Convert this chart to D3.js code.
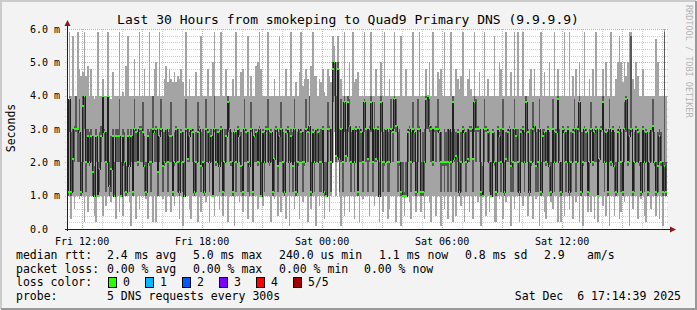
<!DOCTYPE html>
<html>
<head>
<meta charset="utf-8">
<script src="https://d3js.org/d3.v7.min.js"></script>
<style>
body { margin: 0; background: #f3f3f3; }
text { font-family: "DejaVu Sans Mono", monospace; fill: #000; white-space: pre; }
</style>
</head>
<body>
<script>
// RTT values in 0.1 ms, one value per 5 minute step (360 steps = 30 hours)
var medRtt = [
  11,39,11,21,30,30,30,29,11,37,40,20,28,20,28,17,10,28,10,18,28,40,29,20,40,13,18,28,10,28,
  28,28,10,28,20,11,28,19,28,11,30,29,20,30,30,29,19,11,28,20,20,30,29,30,17,28,30,19,20,30,
  20,28,28,11,20,30,20,11,29,20,10,30,21,28,30,29,11,20,29,30,19,20,11,30,29,20,28,10,30,20,
  29,19,30,11,20,28,38,30,20,11,29,20,30,28,19,11,30,29,20,19,30,11,28,29,20,30,10,29,20,30,
  30,20,29,11,21,30,19,28,30,20,11,29,30,20,28,19,30,11,20,30,29,20,20,30,29,31,11,29,20,30,
  29,20,20,30,11,10,30,30,20,48,50,22,48,21,30,20,38,22,38,31,20,30,20,30,11,30,29,20,38,30,
  21,30,38,20,30,21,30,10,38,20,20,30,20,20,30,29,39,31,20,20,11,10,10,10,29,30,20,30,29,11,
  30,30,11,11,20,39,40,31,30,20,30,30,30,29,20,20,20,20,20,30,20,38,21,22,29,11,20,30,29,20,
  21,30,30,21,38,30,30,30,11,10,30,30,29,20,10,29,20,11,30,28,20,30,11,21,29,30,19,20,30,28,
  20,11,29,30,20,38,29,11,20,30,31,19,20,30,11,28,29,20,30,19,11,30,20,29,39,20,11,30,29,20,
  30,11,20,29,30,20,30,38,11,20,30,29,11,20,30,20,29,30,10,21,30,38,20,29,11,30,20,30,19,11,
  29,30,20,11,30,39,20,28,30,11,20,30,29,20,11,30,20,29,11,20,30,31,20,11,19,28,20,11,19,11
];
// 2nd and 4th of the 5 sorted pings
var ping2 = [
  10,29,10,11,20,29,20,20,10,20,30,11,20,19,20,10,10,20,10,11,20,30,20,11,30,10,11,20,10,20,
  20,20,10,19,11,10,20,11,20,10,20,20,19,29,20,20,11,10,20,19,11,29,20,20,10,20,29,11,19,20,
  11,20,20,10,19,20,11,10,20,11,10,29,20,20,29,20,10,11,20,29,11,19,10,20,20,11,20,10,29,19,
  20,11,20,10,11,20,29,20,19,10,20,11,29,20,11,10,20,20,11,10,29,10,20,20,19,20,10,20,11,29,
  20,19,20,10,11,29,11,20,20,11,10,20,29,11,20,11,20,10,19,20,20,11,19,29,20,29,10,20,11,20,
  20,11,11,20,10,10,20,29,11,38,40,20,39,11,20,11,29,20,29,20,11,20,11,29,10,20,20,11,29,20,
  11,20,29,11,20,20,29,10,29,11,19,20,11,11,29,20,30,29,11,19,10,10,10,10,20,29,11,20,20,10,
  20,29,10,10,11,30,30,29,20,19,29,20,29,20,11,19,11,19,11,20,11,29,20,11,20,10,11,29,20,11,
  20,20,29,11,29,20,29,20,10,10,20,29,20,11,10,20,19,10,20,20,11,29,10,20,20,29,11,11,20,20,
  11,10,20,20,11,29,20,10,19,20,29,11,11,29,10,20,20,19,20,11,10,20,11,20,30,11,10,29,20,11,
  20,10,11,20,29,11,20,29,10,19,20,20,10,11,29,19,20,20,10,20,29,30,11,20,10,20,19,29,11,10,
  20,29,11,10,20,29,19,20,29,10,11,20,20,19,10,29,11,20,10,11,20,29,19,10,11,20,19,10,11,10
];
var ping4 = [
  20,40,29,30,31,40,30,39,20,40,40,30,30,29,30,28,19,30,20,29,31,40,30,29,40,20,28,30,20,30,
  30,39,20,30,29,19,30,28,30,20,39,30,29,31,31,38,28,20,30,29,30,40,30,31,28,30,39,29,29,30,
  29,30,38,20,29,31,30,20,30,29,20,39,30,29,30,30,20,29,38,31,29,30,20,39,30,29,30,19,40,30,
  30,29,31,20,30,30,40,38,29,20,30,29,31,30,29,19,39,30,29,20,38,20,30,30,29,31,20,30,29,31,
  39,29,30,20,30,31,29,30,38,29,20,30,31,29,30,29,39,20,29,30,30,29,30,39,30,40,20,30,29,30,
  30,29,30,31,20,20,38,31,30,50,50,40,50,30,39,30,40,30,40,39,29,30,30,31,20,31,30,29,39,30,
  30,31,40,29,38,30,31,20,40,29,30,30,29,30,39,30,40,39,29,30,20,20,11,20,30,31,29,38,30,20,
  39,31,20,29,30,40,40,39,31,29,30,31,39,30,29,20,30,29,30,30,29,40,30,29,30,20,29,31,30,29,
  30,31,31,30,40,39,31,30,20,19,39,31,30,29,20,30,29,20,31,29,30,39,20,29,30,31,20,30,39,30,
  30,20,30,31,29,40,30,20,30,38,31,29,30,39,20,30,30,29,31,29,20,39,29,30,40,30,20,31,30,29,
  31,20,29,30,39,30,31,40,29,29,31,30,20,30,38,29,30,31,20,30,31,40,29,30,20,39,29,31,29,20,
  30,31,29,20,38,40,30,30,58,20,29,31,30,29,20,31,29,30,20,29,30,39,29,20,29,30,29,20,59,20
];
// fastest and slowest ping
var pingMin = [
  10,10, 3,10, 6,10,10, 9,10,10, 2,10, 5,10,10,10, 4, 2,10,10,10, 4,10, 7,10,10, 8,10,10, 3,
  10, 5,10, 4,10,10,10, 8, 1,10,10, 3,10, 6,10,10,10, 9, 3,10,10, 2,10, 2,10,10,10, 9,10, 5,
  10,10, 5,10, 7,10,10, 3,10, 1,10,10,10, 6, 3,10,10,10, 2,10, 5,10,10, 8,10, 2,10,10, 4,10,
  10, 6,10, 4,10,10, 2,10,10,10, 1,10,10, 8,10, 5,10,10, 3,10,10, 2,10,10, 6,10,10, 7,10,10,
  10,10, 2,10, 9,10, 4,10, 5,10,10, 3,10, 1,10,10, 6,10,10, 3,10, 8,10,10, 2,10, 6,10,10, 1,
  10, 7,10,10, 3,10,10, 5,10,20,29,10,20,10, 1,10, 4,10,10, 5,10,10, 3,10,10, 2,10, 9,10,10,
  10, 4,10,10, 7,10,10, 2,10, 5,10,10, 3, 6,10,10,10, 2,10,10, 1,10, 4,10,10, 8, 3,10,10, 5,
  10,10, 5,10, 3,10,10, 8, 2,10,10, 4,10,10, 1,10, 6,10, 3,10,10, 2,10, 4,10,10, 7,10, 2,10,
  10, 5,10, 3,10,10, 8,10, 1,10,10, 4,10, 5,10,10, 2, 2,10, 9,10, 3,10, 8,10,10, 1,10, 6,10,
  10, 2,10, 7,10,10, 4,10,10, 3,10, 9,10, 1,10,10, 5, 3,10,10, 8, 6,10,10, 2,10, 2,10, 4,10,
  10, 6,10, 3,10, 8,10, 2,10, 1,10,10, 5,10, 5,10, 3,10, 2,10,10, 7,10, 4,10, 1,10,10, 4,10,
  10, 3, 5,10, 8,10,10, 1,10, 6,10,10, 3,10, 9,10, 4, 2,10,10, 6,10,10, 4,10, 3,10, 1,10,10
];
var pingMax = [
  39,59,40,58,40,40,59,48,46,47,59,46,49,40,48,40,39,40,59,40,40,45,40,40,59,40,39,47,40,40,
  40,59,40,41,40,49,58,40,40,40,51,40,40,59,40,40,48,40,40,59,40,40,48,50,40,59,40,40,45,49,
  44,48,45,44,47,44,46,45,48,44,40,59,40,45,40,40,40,47,40,40,58,40,40,40,48,40,40,50,59,40,
  40,40,59,40,40,48,40,40,40,45,40,59,40,40,47,48,40,40,58,40,46,40,40,49,50,59,48,40,40,40,
  59,40,40,40,45,40,40,58,40,40,40,48,40,40,59,40,40,44,40,47,59,43,45,48,45,40,49,59,46,46,
  40,45,44,48,41,40,48,46,44,58,55,50,58,48,45,40,59,40,40,50,40,59,44,45,47,40,40,40,59,40,
  40,40,59,40,40,48,40,40,50,40,59,40,40,45,40,40,59,40,40,40,58,40,40,48,40,40,40,59,40,40,
  40,59,40,40,40,48,40,50,40,59,40,40,47,45,48,40,59,40,40,40,59,40,40,48,45,42,46,59,40,40,
  45,48,42,40,59,40,40,47,40,40,59,40,45,40,40,40,58,40,40,50,48,40,40,59,40,40,47,40,59,40,
  59,40,40,59,40,40,40,45,48,40,48,40,40,40,59,40,47,40,40,50,40,40,59,40,48,40,40,40,59,40,
  40,59,40,46,40,48,40,50,40,40,59,40,40,45,40,48,40,59,40,40,40,48,40,50,40,40,59,40,40,45,
  50,58,50,44,50,46,50,59,59,45,42,50,46,40,40,48,40,40,40,40,40,40,40,57,50,40,40,40,60,40
];

var yTicks = [0, 1, 2, 3, 4, 5, 6];
var yTickLabels = ["0.0", "1.0 m", "2.0 m", "3.0 m", "4.0 m", "5.0 m", "6.0 m"];
var titleText = "Last 30 Hours from smokeping to Quad9 Primary DNS (9.9.9.9)";
var rttStats = ["2.4 ms avg", "5.0 ms max", "240.0 us min", "1.1 ms now", "0.8 ms sd", "2.9", "am/s"];
var lossStats = ["0.00 % avg", "0.00 % max", "0.00 % min", "0.00 % now"];
var lossLevels = ["0", "1", "2", "3", "4", "5/5"];
var lossColors = ["#26ff00", "#00b8ff", "#0059ff", "#7e00ff", "#ff0000", "#a10000"];
var probeText = "5 DNS requests every 300s";
var stampText = "Sat Dec  6 17:14:39 2025";

var tEnd = new Date(Date.UTC(2025, 11, 6, 17, 14, 39));
var tStart = new Date(tEnd.getTime() - 30 * 3600 * 1000);
var stepMs = 300 * 1000;
var N = medRtt.length;

var svg = d3.select("body").append("svg")
    .attr("width", 697)
    .attr("height", 310);

//Background and frame
svg.append("rect").attr("width", 697).attr("height", 310).attr("fill", "#f3f3f3");
svg.append("path").attr("d", "M1,309 V1 H696").attr("fill", "none")
    .attr("stroke", "#cbcbcb").attr("stroke-width", 2);
svg.append("path").attr("d", "M1,309 H696 V1").attr("fill", "none")
    .attr("stroke", "#999999").attr("stroke-width", 2);

//Scales
var x = d3.scaleUtc().domain([tStart, tEnd]).range([67, 667]);
var y = d3.scaleLinear().domain([0, 6]).range([229, 29]);

//Canvas
svg.append("rect").attr("x", 67).attr("y", 29).attr("width", 600).attr("height", 200).attr("fill", "#ffffff");

//Grid
var grid = svg.append("g").attr("shape-rendering", "crispEdges");
var minorY = d3.range(0, 31).map(function(d) { return d / 5; }).filter(function(d) { return d % 1 !== 0; });
grid.selectAll(".hminor").data(minorY).enter().append("line")
    .attr("x1", 65).attr("x2", 669)
    .attr("y1", function(d) { return Math.round(y(d)) + 0.5; })
    .attr("y2", function(d) { return Math.round(y(d)) + 0.5; })
    .attr("stroke", "#cfcfcf").attr("stroke-dasharray", "1,1");
var hours = d3.utcHour.every(1).range(tStart, tEnd);
grid.selectAll(".vminor").data(hours.filter(function(d) { return d.getUTCHours() % 3 !== 0; })).enter().append("line")
    .attr("x1", function(d) { return Math.round(x(d)) + 0.5; })
    .attr("x2", function(d) { return Math.round(x(d)) + 0.5; })
    .attr("y1", 29).attr("y2", 231)
    .attr("stroke", "#cfcfcf").attr("stroke-dasharray", "1,1");
grid.selectAll(".hmajor").data(yTicks.slice(1)).enter().append("line")
    .attr("x1", 65).attr("x2", 669)
    .attr("y1", function(d) { return Math.round(y(d)) + 0.5; })
    .attr("y2", function(d) { return Math.round(y(d)) + 0.5; })
    .attr("stroke", "#eea0a0").attr("stroke-dasharray", "1,1");
grid.selectAll(".vmajor").data(hours.filter(function(d) { return d.getUTCHours() % 3 === 0; })).enter().append("line")
    .attr("x1", function(d) { return Math.round(x(d)) + 0.5; })
    .attr("x2", function(d) { return Math.round(x(d)) + 0.5; })
    .attr("y1", 29).attr("y2", 231)
    .attr("stroke", "#eea0a0").attr("stroke-dasharray", "1,1");

//Steps (last one repeated to close the step curve)
var steps = d3.range(N + 1).map(function(i) {
    return { t: new Date(tStart.getTime() + i * stepMs), k: Math.min(i, N - 1) };
});

var outer = d3.area().curve(d3.curveStepAfter)
    .x(function(d) { return x(d.t); })
    .y0(function(d) { return y(pingMin[d.k] / 10); })
    .y1(function(d) { return y(pingMax[d.k] / 10); });
var inner = d3.area().curve(d3.curveStepAfter)
    .x(function(d) { return x(d.t); })
    .y0(function(d) { return y(ping2[d.k] / 10); })
    .y1(function(d) { return y(ping4[d.k] / 10); });
var medLine = d3.line().curve(d3.curveStepAfter)
    .x(function(d) { return x(d.t); })
    .y(function(d) { return Math.round(y(medRtt[d.k] / 10)) + 0.5; });

var plot = svg.append("g").attr("shape-rendering", "crispEdges");
plot.append("path").attr("d", outer(steps)).attr("fill", "#a4a4a4");
plot.append("path").attr("d", inner(steps)).attr("fill", "#585858");
plot.append("path").attr("d", medLine(steps)).attr("fill", "none").attr("stroke", "#202020").attr("stroke-width", 1);

//Loss colour marks on the median
plot.selectAll(".mark").data(steps.slice(0, N)).enter().append("rect")
    .attr("x", function(d) { return x(d.t); })
    .attr("width", function(d) { return x(new Date(d.t.getTime() + stepMs)) - x(d.t); })
    .attr("y", function(d) { return Math.round(y(medRtt[d.k] / 10)) - 1; })
    .attr("height", 2)
    .attr("fill", lossColors[0]);

//Axes
var axes = svg.append("g").attr("shape-rendering", "crispEdges");
axes.append("line").attr("x1", 67.5).attr("x2", 67.5).attr("y1", 231).attr("y2", 25).attr("stroke", "#202020");
axes.append("line").attr("x1", 65).attr("x2", 671).attr("y1", 229.5).attr("y2", 229.5).attr("stroke", "#202020");
svg.append("path").attr("d", "M64.5,26 L70.5,26 L67.5,20 Z").attr("fill", "#8b1a1a");
svg.append("path").attr("d", "M670,226.5 L670,232.5 L676,229.5 Z").attr("fill", "#8b1a1a");

svg.selectAll(".ylab").data(yTicks).enter().append("text")
    .attr("x", 30)
    .attr("y", function(d) { return y(d) + 3.5; })
    .attr("font-size", "10px")
    .text(function(d, i) { return yTickLabels[i]; });

var labelHours = hours.filter(function(d) { return d.getUTCHours() % 6 === 0; });
var fmt = d3.utcFormat("%a %H:%M");
svg.selectAll(".xlab").data(labelHours).enter().append("text")
    .attr("x", function(d) { return x(d); })
    .attr("y", 244.5)
    .attr("font-size", "10px")
    .attr("text-anchor", "middle")
    .text(function(d) { return fmt(d); });

//Title and side texts
svg.append("text").attr("x", 348).attr("y", 23.5).attr("font-size", "13px")
    .attr("text-anchor", "middle").text(titleText);
svg.append("text").attr("transform", "translate(15,128) rotate(-90)")
    .attr("font-size", "11.5px").attr("text-anchor", "middle").text("Seconds");
svg.append("text").attr("transform", "translate(686,5) rotate(90)")
    .attr("font-size", "8.5px").style("fill", "#b4b4b4").text("RRDTOOL / TOBI OETIKER");

//Legend
var lg = svg.append("g").attr("font-size", "11.5px");
lg.append("text").attr("x", 16).attr("y", 259).text("median rtt:");
var rttX = [107, 193, 279, 379, 465, 544, 587];
lg.selectAll(".rtt").data(rttStats).enter().append("text")
    .attr("x", function(d, i) { return rttX[i]; }).attr("y", 259).text(function(d) { return d; });

lg.append("text").attr("x", 16).attr("y", 272.5).text("packet loss:");
var lossX = [107, 193, 279, 364];
lg.selectAll(".loss").data(lossStats).enter().append("text")
    .attr("x", function(d, i) { return lossX[i]; }).attr("y", 272.5).text(function(d) { return d; });

lg.append("text").attr("x", 16).attr("y", 286).text("loss color:");
var boxX = [108, 145, 182, 219, 256, 293];
lg.selectAll(".lbox").data(lossLevels).enter().append("rect")
    .attr("x", function(d, i) { return boxX[i] + 0.5; }).attr("y", 277.5)
    .attr("width", 8).attr("height", 10)
    .attr("fill", function(d, i) { return lossColors[i]; })
    .attr("stroke", "#000").attr("shape-rendering", "crispEdges");
lg.selectAll(".ltxt").data(lossLevels).enter().append("text")
    .attr("x", function(d, i) { return boxX[i] + 15; }).attr("y", 286).text(function(d) { return d; });

lg.append("text").attr("x", 16).attr("y", 300).text("probe:");
lg.append("text").attr("x", 107).attr("y", 300).text(probeText);
lg.append("text").attr("x", 681).attr("y", 300).attr("text-anchor", "end").text(stampText);
</script>
</body>
</html>
